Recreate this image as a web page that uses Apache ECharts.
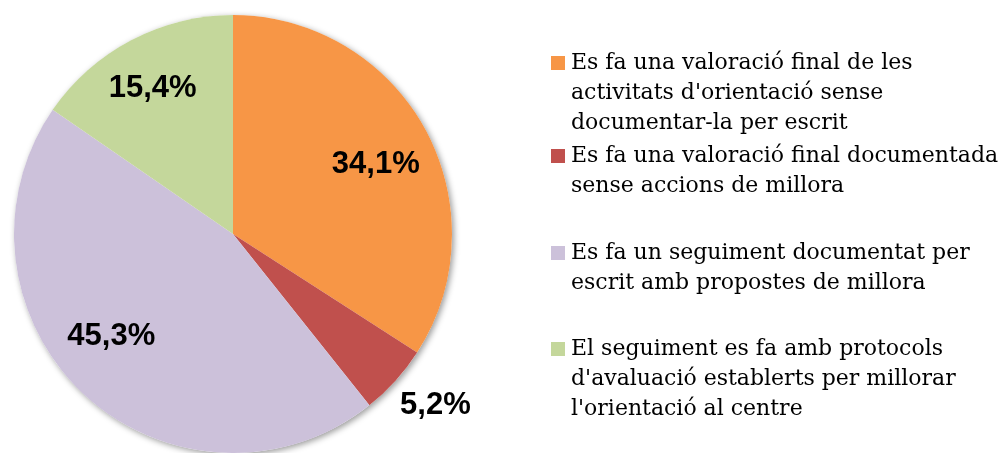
<!DOCTYPE html>
<html>
<head>
<meta charset="utf-8">
<script src="https://cdn.jsdelivr.net/npm/echarts@6/dist/echarts.min.js"></script>
<style>
  html, body { margin: 0; padding: 0; background: #fff; }
  #chart { width: 1003px; height: 453px; }
</style>
</head>
<body>
<div id="chart"></div>
<script>
"use strict"
// data
const categories = [
    "Es fa una valoració final de les activitats d'orientació sense documentar-la per escrit",
    "Es fa una valoració final documentada sense accions de millora",
    "Es fa un seguiment documentat per escrit amb propostes de millora",
    "El seguiment es fa amb protocols d'avaluació establerts per millorar l'orientació al centre"
];
const values = [34.1, 5.2, 45.3, 15.4];
// legend text as it wraps in the picture
const legendLines = [
    ["Es fa una valoració final de les", "activitats d'orientació sense", "documentar-la per escrit"],
    ["Es fa una valoració final documentada", "sense accions de millora"],
    ["Es fa un seguiment documentat per", "escrit amb propostes de millora"],
    ["El seguiment es fa amb protocols", "d'avaluació establerts per millorar", "l'orientació al centre"]
];

// styling
const colors = ['#F79646', '#C0504D', '#CCC1DA', '#C4D79B'];
const labelOffsets = [[44, -16], [119, 96], [-45, 20], [-28, -46]];
const legendTops = [52, 145, 242, 338];

const chart = echarts.init(document.getElementById('chart'), null, { renderer: 'canvas' });

function fmtPercent(v) {
    return v.toFixed(1).replace('.', ',') + '%';
}

const rich = {
    pad: { width: 14, height: 14 },
    t: {
        fontFamily: 'DejaVu Serif',
        fontSize: 22,
        lineHeight: 30,
        color: '#000',
        padding: [0, 0, 0, 6]
    }
};
colors.forEach(function (c, i) {
    rich['sq' + i] = { width: 14, height: 14, backgroundColor: c };
});

const legends = categories.map(function (name, i) {
    return {
        data: [name],
        orient: 'vertical',
        left: 546,
        top: legendTops[i],
        padding: 0,
        icon: 'none',
        itemWidth: 0,
        itemHeight: 0,
        selectedMode: false,
        formatter: function (n) {
            const idx = categories.indexOf(n);
            return legendLines[idx].map(function (line, j) {
                return (j === 0 ? '{sq' + idx + '|}' : '{pad|}') + '{t|' + line + '}';
            }).join('\n');
        },
        textStyle: { rich: rich }
    };
});

const total = values.reduce(function (a, b) { return a + b; }, 0);

const option = {
    backgroundColor: '#fff',
    animation: false,
    color: colors,
    legend: legends,
    series: [
        {
            // soft drop shadow under the whole pie
            type: 'pie',
            silent: true,
            center: [233, 234],
            radius: 219,
            label: { show: false },
            labelLine: { show: false },
            itemStyle: {
                color: '#fff',
                shadowBlur: 6,
                shadowOffsetX: 2,
                shadowOffsetY: 2,
                shadowColor: 'rgba(0,0,0,0.4)'
            },
            data: [{ name: '', value: total }]
        },
        {
            type: 'pie',
            center: [233, 234],
            radius: 219,
            startAngle: 90,
            clockwise: true,
            avoidLabelOverlap: false,
            itemStyle: { borderWidth: 0 },
            label: {
                show: true,
                position: 'inside',
                fontFamily: 'Liberation Sans',
                fontWeight: 'bold',
                fontSize: 31,
                color: '#000',
                textBorderWidth: 0,
                formatter: function (p) { return fmtPercent(p.value); }
            },
            labelLine: { show: false },
            emphasis: { disabled: true },
            data: categories.map(function (name, i) {
                return {
                    name: name,
                    value: values[i],
                    label: { offset: labelOffsets[i] }
                };
            })
        }
    ]
};

chart.setOption(option);
console.log('chart ready');
</script>
</body>
</html>
